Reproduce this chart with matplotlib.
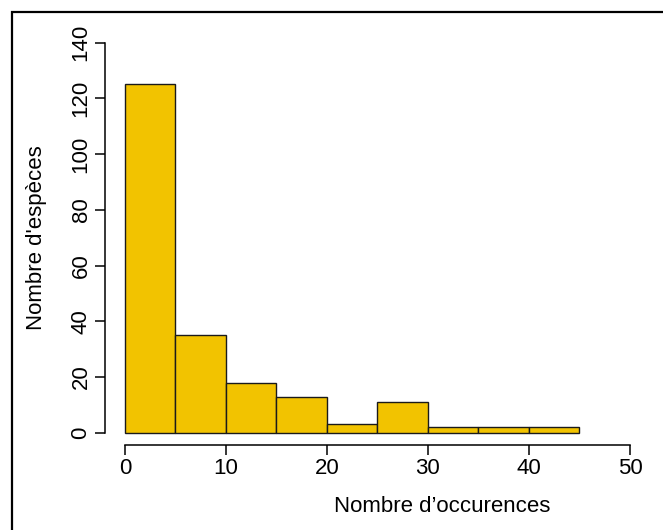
import matplotlib.pyplot as plt
from matplotlib.patches import Rectangle
import numpy as np

# histogram bins (Nombre d'occurences) and counts (Nombre d'espèces)
bin_edges = [0, 5, 10, 15, 20, 25, 30, 35, 40, 45]
counts = [125, 35, 18, 13, 3, 11, 2, 2, 2]
x_ticks = [0, 10, 20, 30, 40, 50]
y_ticks = [0, 20, 40, 60, 80, 100, 120, 140]

plt.rcParams['font.family'] = ['Liberation Sans', 'DejaVu Sans']
plt.rcParams['font.size'] = 16

fig = plt.figure(figsize=(6.63, 5.30), dpi=100)
ax = fig.add_axes([0.158, 0.1604, 0.8226, 0.7885])

widths = np.diff(bin_edges)
ax.bar(bin_edges[:-1], counts, width=widths, align='edge',
       color='#F2C300', edgecolor='#1a1a1a', linewidth=1.0)

ax.set_xlim(-2, 52)
ax.set_ylim(-4.4, 145.6)
ax.set_xticks(x_ticks)
ax.set_yticks(y_ticks)
ax.set_yticklabels([str(v) for v in y_ticks], rotation=90, va='center')

for s in ['top', 'right']:
    ax.spines[s].set_visible(False)
ax.spines['bottom'].set_bounds(0, 50)
ax.spines['left'].set_bounds(0, 140)
ax.spines['bottom'].set_linewidth(1.1)
ax.spines['left'].set_linewidth(1.1)
ax.tick_params(direction='out', length=7, width=1.1, labelsize=16)
ax.tick_params(axis='x', pad=2.5)
ax.tick_params(axis='y', pad=2.5)

ax.set_xlabel('Nombre d’occurences', fontsize=16, va='center')
ax.set_ylabel("Nombre d'espèces", fontsize=16, va='center')
ax.xaxis.set_label_coords(0.618, (445 - 507) / 417.9)
ax.yaxis.set_label_coords((36.5 - 104.8) / 545.4, 0.5 + (445 - 237.7 - 417.9 / 2) / 417.9)

# outer frame, cut by the right and bottom edges
fig.patches.append(Rectangle((12 / 663, -0.1), 1.2, 1.1 - 12 / 530,
                             transform=fig.transFigure, fill=False,
                             edgecolor='black', linewidth=1.6))

fig.savefig('out.png', dpi=100)
